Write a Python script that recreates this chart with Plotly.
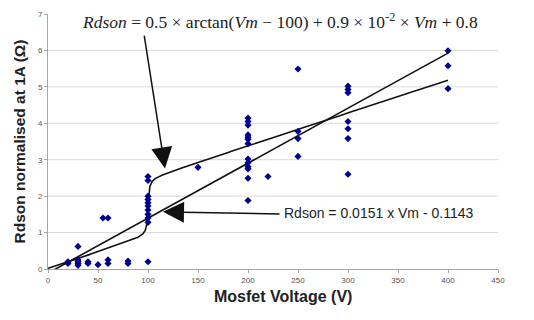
import numpy as np
import plotly.graph_objects as go

# Measured data: Mosfet voltage (V) and normalised Rdson (Ohm)
vm = [20, 20,
      30, 30, 30, 30, 30,
      40, 40,
      50,
      55,
      60, 60, 60,
      80, 80,
      100, 100, 100, 100, 100, 100, 100, 100, 100, 100, 100,
      150,
      200, 200, 200, 200, 200, 200, 200, 200, 200, 200, 200, 200, 200,
      220,
      250, 250, 250, 250,
      300, 300, 300, 300, 300, 300, 300,
      400, 400, 400]
rds = [0.15, 0.2,
       0.62, 0.1, 0.15, 0.2, 0.25,
       0.15, 0.2,
       0.12,
       1.4,
       1.4, 0.15, 0.25,
       0.15, 0.22,
       0.2, 1.28, 1.4, 1.5, 1.62, 1.73, 1.82, 1.91, 2.0, 2.43, 2.54,
       2.79,
       1.88, 2.49, 2.75, 2.81, 2.92, 3.02, 3.44, 3.56, 3.62, 3.68, 3.95, 4.05, 4.14,
       2.54,
       3.09, 3.58, 3.78, 5.49,
       2.60, 3.58, 3.85, 4.05, 4.84, 4.93, 5.02,
       4.95, 5.58, 5.99]

# Fit coefficients as printed on the chart
lin_slope = 0.0151
lin_icpt = -0.1143
atan_amp = 0.5
atan_center = 100
atan_slope = 0.9e-2
atan_offset = 0.8

x_ticks = [0, 50, 100, 150, 200, 250, 300, 350, 400, 450]
y_ticks = [0, 1, 2, 3, 4, 5, 6, 7]

vfit = np.linspace(0, 400, 2001)
lin_fit = lin_slope * vfit + lin_icpt
atan_fit = atan_amp * np.arctan(vfit - atan_center) + atan_slope * vfit + atan_offset

fig = go.Figure()
fig.add_trace(go.Scatter(x=vfit, y=lin_fit, mode="lines",
                         line=dict(color="#111111", width=1.6), hoverinfo="skip"))
fig.add_trace(go.Scatter(x=vfit, y=atan_fit, mode="lines",
                         line=dict(color="#111111", width=1.6), hoverinfo="skip"))
fig.add_trace(go.Scatter(x=vm, y=rds, mode="markers",
                         marker=dict(symbol="diamond", size=5.5, color="#00008f")))

# gridlines (none at the top value)
for yv in y_ticks[1:-1]:
    fig.add_shape(type="line", xref="paper", x0=0, x1=1, yref="y", y0=yv, y1=yv,
                  line=dict(color="#d9d9d9", width=1), layer="below")

fig.add_annotation(
    x=232, y=6.8, xref="x", yref="y", showarrow=False,
    text="<i>Rdson</i> = 0.5 × arctan(<i>Vm</i> − 100) + 0.9 × 10<sup>-2</sup> × <i>Vm</i> + 0.8",
    font=dict(family="Liberation Serif", size=17.5, color="#222222"))
fig.add_annotation(
    x=117, y=2.76, ax=96, ay=6.45, xref="x", yref="y", axref="x", ayref="y",
    showarrow=True, arrowhead=2, arrowsize=2.8, arrowwidth=1.5, arrowcolor="#111111", text="")
fig.add_annotation(
    x=115, y=1.57, ax=233, ay=1.51, xref="x", yref="y", axref="x", ayref="y",
    showarrow=True, arrowhead=2, arrowsize=2.8, arrowwidth=1.5, arrowcolor="#111111", text="")
fig.add_annotation(
    x=234, y=1.53, xref="x", yref="y", showarrow=False, xanchor="left",
    text="Rdson = 0.0151 x Vm - 0.1143",
    font=dict(family="Liberation Sans", size=14, color="#222222"))
# x-axis title (slightly right of centre, as in the reference)
fig.add_annotation(
    x=0.522, y=-0.108, xref="paper", yref="paper", showarrow=False,
    xanchor="center", yanchor="middle",
    text="<b>Mosfet Voltage (V)</b>",
    font=dict(family="Liberation Sans", size=16, color="#222222"))

fig.update_layout(
    width=534, height=320,
    margin=dict(l=48, r=36, t=10, b=51),
    paper_bgcolor="white", plot_bgcolor="white",
    showlegend=False,
    font=dict(family="Liberation Sans", color="#444444"),
    xaxis=dict(range=[0, 450], tickvals=x_ticks, showgrid=False, zeroline=False,
               showline=True, linecolor="#a6a6a6", linewidth=1,
               ticks="outside", ticklen=3, tickcolor="#a6a6a6",
               tickfont=dict(size=8, color="#555555")),
    yaxis=dict(range=[0, 7], tickvals=y_ticks, showgrid=False, zeroline=False,
               showline=True, linecolor="#a6a6a6", linewidth=1,
               ticks="outside", ticklen=3, tickcolor="#a6a6a6",
               tickfont=dict(size=8, color="#555555"),
               title=dict(text="<b>Rdson normalised at 1A (Ω)</b>", standoff=8,
                          font=dict(size=15.5, color="#222222"))),
)

fig.write_html("out.html")
